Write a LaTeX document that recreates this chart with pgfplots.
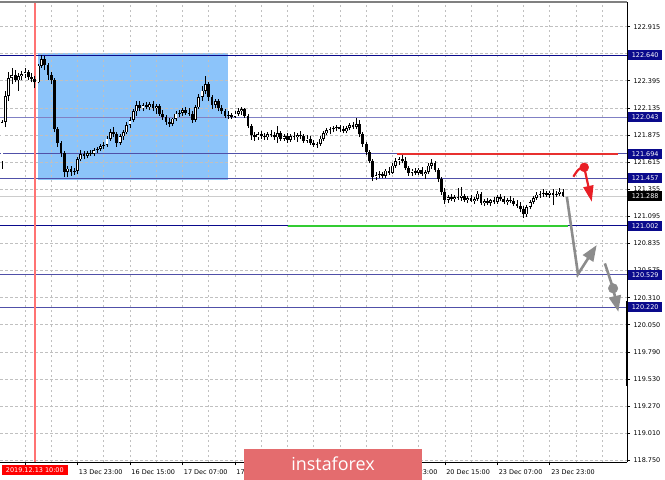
\documentclass[border=0pt]{standalone}
\usepackage{pgfplots}
\pgfplotsset{compat=1.18}
\usepackage{pgfplotstable}
\usepackage{fontspec}
\setmainfont{DejaVu Sans}
\newfontfamily\insta{Open Sans}
\usetikzlibrary{arrows.meta}

\definecolor{navy}{RGB}{10,10,140}
\definecolor{lvl}{RGB}{80,80,168}
\definecolor{lvllight}{RGB}{128,128,196}
\definecolor{boxblue}{RGB}{140,196,250}
\definecolor{gridc}{RGB}{192,192,192}
\definecolor{arrred}{RGB}{232,30,37}
\definecolor{arrgray}{RGB}{140,140,140}
\definecolor{linered}{RGB}{232,48,47}
\definecolor{linegreen}{RGB}{51,204,51}
\definecolor{banner}{RGB}{228,108,110}

% hourly candles, h = hours from 13 Dec 07:00 (trading hours)
\pgfplotstableread{
h o hi lo c
-7 121.62 122.02 121.55 122.00
-6 122.00 122.30 121.95 122.25
-5 122.25 122.48 122.20 122.42
-4 122.42 122.52 122.36 122.45
-3 122.45 122.50 122.38 122.40
-2 122.40 122.47 122.30 122.44
-1 122.44 122.49 122.40 122.46
0 122.46 122.52 122.42 122.48
1 122.48 122.50 122.40 122.43
2 122.43 122.47 122.38 122.41
3 122.41 122.44 122.33 122.38
4 122.38 122.56 122.37 122.54
5 122.54 122.64 122.52 122.60
6 122.60 122.63 122.50 122.55
7 122.55 122.57 122.40 122.45
8 122.45 122.48 122.36 122.40
9 122.40 122.42 121.90 121.93
10 121.93 121.95 121.76 121.80
11 121.80 121.82 121.66 121.70
12 121.70 121.72 121.47 121.52
13 121.52 121.58 121.47 121.55
14 121.55 121.58 121.48 121.52
15 121.52 121.56 121.49 121.53
16 121.53 121.66 121.50 121.64
17 121.64 121.73 121.62 121.69
18 121.69 121.72 121.64 121.67
19 121.67 121.72 121.65 121.70
20 121.70 121.73 121.67 121.69
21 121.69 121.75 121.67 121.73
22 121.73 121.76 121.70 121.74
23 121.74 121.79 121.72 121.77
24 121.77 121.81 121.74 121.78
25 121.78 121.86 121.76 121.84
26 121.84 121.93 121.82 121.90
27 121.90 121.95 121.85 121.88
28 121.88 121.90 121.76 121.80
29 121.80 121.88 121.78 121.86
30 121.86 121.92 121.83 121.90
31 121.90 122.00 121.88 121.97
32 121.97 122.05 121.94 122.02
33 122.02 122.12 122.00 122.10
34 122.10 122.20 122.06 122.16
35 122.16 122.20 122.10 122.13
36 122.13 122.18 122.10 122.16
37 122.16 122.19 122.12 122.14
38 122.14 122.19 122.11 122.17
39 122.17 122.20 122.10 122.13
40 122.13 122.17 122.08 122.15
41 122.15 122.17 122.06 122.08
42 122.08 122.11 122.02 122.05
43 122.05 122.07 121.97 122.00
44 122.00 122.04 121.95 121.98
45 121.98 122.04 121.96 122.03
46 122.03 122.10 122.01 122.08
47 122.08 122.11 122.05 122.09
48 122.09 122.13 122.06 122.11
49 122.11 122.14 122.07 122.09
50 122.09 122.13 122.06 122.08
51 122.08 122.10 121.99 122.02
52 122.02 122.16 122.00 122.14
53 122.14 122.27 122.12 122.24
54 122.24 122.34 122.20 122.30
55 122.30 122.44 122.27 122.36
56 122.36 122.38 122.20 122.24
57 122.24 122.26 122.12 122.16
58 122.16 122.22 122.13 122.20
59 122.20 122.22 122.10 122.13
60 122.13 122.16 122.08 122.10
61 122.10 122.12 122.04 122.06
62 122.06 122.10 122.03 122.07
63 122.07 122.09 122.03 122.05
64 122.05 122.10 122.04 122.08
65 122.08 122.13 122.06 122.10
66 122.10 122.14 122.07 122.12
67 122.12 122.13 122.04 122.06
68 122.06 122.08 121.94 121.96
69 121.96 121.98 121.83 121.87
70 121.87 121.90 121.82 121.85
71 121.85 121.90 121.83 121.88
72 121.88 121.91 121.84 121.86
73 121.86 121.89 121.83 121.85
74 121.85 121.90 121.83 121.88
75 121.88 121.92 121.85 121.87
76 121.87 121.90 121.83 121.85
77 121.85 121.96 121.80 121.89
78 121.89 121.91 121.82 121.84
79 121.84 121.88 121.82 121.86
80 121.86 121.89 121.80 121.83
81 121.83 121.88 121.81 121.86
82 121.86 121.90 121.83 121.85
83 121.85 121.89 121.81 121.87
84 121.87 121.91 121.84 121.86
85 121.86 121.88 121.80 121.82
86 121.82 121.87 121.80 121.84
87 121.84 121.86 121.78 121.80
88 121.80 121.83 121.76 121.78
89 121.78 121.81 121.75 121.79
90 121.79 121.86 121.77 121.84
91 121.84 121.91 121.82 121.89
92 121.89 121.94 121.87 121.92
93 121.92 121.95 121.88 121.93
94 121.93 121.96 121.90 121.94
95 121.94 121.97 121.91 121.95
96 121.95 121.97 121.90 121.93
97 121.93 121.96 121.89 121.91
98 121.91 121.96 121.89 121.94
99 121.94 121.99 121.92 121.97
100 121.97 122.00 121.93 121.95
101 121.95 122.04 121.93 121.98
102 121.98 122.02 121.85 121.88
103 121.88 121.90 121.76 121.79
104 121.79 121.81 121.68 121.71
105 121.71 121.73 121.60 121.62
106 121.62 121.64 121.43 121.47
107 121.47 121.52 121.44 121.49
108 121.49 121.53 121.46 121.50
109 121.50 121.52 121.46 121.48
110 121.48 121.55 121.46 121.53
111 121.53 121.57 121.49 121.51
112 121.51 121.60 121.50 121.58
113 121.58 121.65 121.56 121.62
114 121.62 121.66 121.59 121.64
115 121.64 121.68 121.60 121.62
116 121.62 121.66 121.54 121.56
117 121.56 121.58 121.48 121.51
118 121.51 121.55 121.48 121.53
119 121.53 121.56 121.49 121.51
120 121.51 121.56 121.49 121.54
121 121.54 121.57 121.48 121.50
122 121.50 121.54 121.45 121.52
123 121.52 121.60 121.50 121.58
124 121.58 121.64 121.55 121.60
125 121.60 121.62 121.52 121.54
126 121.54 121.56 121.42 121.45
127 121.45 121.47 121.30 121.33
128 121.33 121.36 121.21 121.25
129 121.25 121.30 121.22 121.28
130 121.28 121.31 121.24 121.26
131 121.26 121.30 121.23 121.28
132 121.28 121.36 121.25 121.27
133 121.27 121.37 121.24 121.29
134 121.29 121.31 121.23 121.25
135 121.25 121.29 121.22 121.27
136 121.27 121.30 121.23 121.24
137 121.24 121.28 121.21 121.26
138 121.26 121.34 121.24 121.31
139 121.31 121.33 121.20 121.22
140 121.22 121.26 121.19 121.24
141 121.24 121.27 121.20 121.22
142 121.22 121.26 121.19 121.25
143 121.25 121.28 121.21 121.23
144 121.23 121.30 121.21 121.28
145 121.28 121.31 121.24 121.26
146 121.26 121.29 121.21 121.23
147 121.23 121.27 121.20 121.25
148 121.25 121.29 121.22 121.24
149 121.24 121.27 121.19 121.21
150 121.21 121.25 121.17 121.19
151 121.19 121.23 121.13 121.16
152 121.16 121.19 121.08 121.11
153 121.11 121.20 121.09 121.18
154 121.18 121.25 121.16 121.23
155 121.23 121.29 121.21 121.27
156 121.27 121.33 121.25 121.30
157 121.30 121.34 121.27 121.31
158 121.31 121.35 121.28 121.32
159 121.32 121.34 121.28 121.30
160 121.30 121.34 121.27 121.32
161 121.32 121.35 121.20 121.30
162 121.30 121.34 121.28 121.31
163 121.31 121.36 121.29 121.33
164 121.33 121.35 121.28 121.29
}\candles

\newcommand{\lvlbox}[3]{% value, fill, text
  \node[anchor=west, fill=#2, text=white, inner sep=0pt, minimum width=34bp,
        minimum height=10bp, font=\fontsize{6.5}{7}\selectfont, xshift=1bp]
        at (axis cs:183.54,#1) {#3};}

\begin{document}
\begin{tikzpicture}
\begin{axis}[
    at={(0,-2bp)}, anchor=north west,
    width=627bp, height=460bp, scale only axis,
    set layers, clip mode=individual,
    xmin=-7.62, xmax=183.54,
    ymin=118.731, ymax=123.152,
    axis x line*=bottom, axis y line*=right,
    axis line style={-, black, line width=0.8bp},
    xtick={0,16,32,48,64,80,96,112,128,144,160},
    xticklabels={,13 Dec 23:00,16 Dec 15:00,17 Dec 07:00,17 Dec 23:00,,,19 Dec 23:00,20 Dec 15:00,23 Dec 07:00,23 Dec 23:00},
    minor xtick={8,24,40,56,72,88,104,120,136,152,168,176},
    ytick={118.750,119.010,119.270,119.530,119.790,120.050,120.310,120.575,120.835,121.095,121.355,121.615,121.875,122.135,122.395,122.655,122.915},
    yticklabels={118.750,119.010,119.270,119.530,119.790,120.050,120.310,120.575,120.835,121.095,121.355,121.615,121.875,122.135,122.395,,122.915},
    tick label style={font=\fontsize{6.5}{7}\selectfont},
    xticklabel style={anchor=north west, xshift=-2bp, yshift=-1bp},
    tick align=outside, major tick length=3bp, minor tick length=0bp,
    tick style={black, line width=0.6bp},
    xmajorgrids, xminorgrids, ymajorgrids,
    grid style={gridc, dash pattern=on 2.5bp off 2.5bp, line width=0.6bp},
    minor grid style={gridc, dash pattern=on 2.5bp off 2.5bp, line width=0.6bp},
]
\begin{pgfonlayer}{axis background}
  \fill[boxblue] (axis cs:4.05,121.44) rectangle (axis cs:62,122.66);
\end{pgfonlayer}

% levels
\draw[navy, line width=0.8bp] (axis cs:-7.62,122.640) -- (axis cs:183.54,122.640);
\draw[lvllight, line width=1.2bp] (axis cs:-7.62,122.043) -- (axis cs:183.54,122.043);
\draw[lvl, line width=1.2bp] (axis cs:-7.62,121.694) -- (axis cs:183.54,121.694);
\draw[lvl, line width=1bp] (axis cs:-7.62,121.457) -- (axis cs:183.54,121.457);
\draw[gray!40, line width=0.8bp] (axis cs:-7.62,121.288) -- (axis cs:183.54,121.288);
\draw[navy, line width=0.9bp] (axis cs:-7.62,121.002) -- (axis cs:183.54,121.002);
\draw[lvl, line width=1bp] (axis cs:-7.62,120.529) -- (axis cs:183.54,120.529);
\draw[lvl, line width=1bp] (axis cs:-7.62,120.220) -- (axis cs:183.54,120.220);
\draw[red!55, line width=1.4bp] (axis cs:3,118.731) -- (axis cs:3,123.152);

\addplot[linered, line width=2.4bp, forget plot] coordinates {(113.4,121.694)(180.8,121.694)};
\addplot[linegreen, line width=2.4bp, forget plot] coordinates {(80.2,121.002)(165.5,121.002)};

% candles: wicks, bodies, hollow bullish bodies
\addplot[draw=none, mark=none, forget plot,
  error bars/.cd, y dir=plus, y explicit, error mark=none,
  error bar style={draw=black, line width=0.7bp}]
  table[x=h, y=lo, y error plus expr=\thisrow{hi}-\thisrow{lo}] {\candles};
\addplot[draw=none, mark=none, forget plot,
  error bars/.cd, y dir=plus, y explicit, error mark=none,
  error bar style={draw=black, line width=2.8bp}]
  table[x=h, y expr={min(\thisrow{o},\thisrow{c})},
        y error plus expr={max(abs(\thisrow{c}-\thisrow{o}),0.008)}] {\candles};
\addplot[draw=none, mark=none, forget plot,
  error bars/.cd, y dir=plus, y explicit, error mark=none,
  error bar style={draw=white, line width=1.3bp}]
  table[x=h, y expr={\thisrow{o}+0.007},
        y error plus expr={max(\thisrow{c}-\thisrow{o}-0.014,0)}] {\candles};

% forecast arrows
\addplot[arrred, line width=2.2bp, smooth, forget plot] coordinates {(167.2,121.473)(168.7,121.54)(170.5,121.563)};
\addplot[arrred, line width=2.2bp, -{Triangle[length=16bp,width=10bp]}, forget plot] coordinates {(170.5,121.563)(172.8,121.232)};
\addplot[only marks, mark=*, mark size=4.5bp, arrred, forget plot] coordinates {(170.5,121.563)};
\addplot[arrgray, line width=2.6bp, -{Triangle[length=16bp,width=12bp]}, forget plot] coordinates {(165.2,121.280)(168.6,120.537)(174.3,120.816)};
\addplot[arrgray, line width=2.6bp, -{Triangle[length=16bp,width=12bp]}, forget plot] coordinates {(176.8,120.640)(179.3,120.400)(180.9,120.175)};
\addplot[only marks, mark=*, mark size=4.8bp, arrgray, forget plot] coordinates {(179.3,120.400)};

% top border and the last bar at the axis
\draw[gray, line width=2bp] (rel axis cs:0,1) -- (rel axis cs:1,1);
\draw[black, line width=2.2bp] (axis cs:183.54,120.277) -- (axis cs:183.54,119.46);

% level labels
\lvlbox{122.640}{navy}{122.640}
\lvlbox{122.043}{navy}{122.043}
\lvlbox{121.694}{navy}{121.694}
\lvlbox{121.457}{navy}{121.457}
\lvlbox{121.288}{black}{121.288}
\lvlbox{121.002}{navy}{121.002}
\lvlbox{120.529}{navy}{120.529}
\lvlbox{120.220}{navy}{120.220}

% vertical line date label
\node[fill=red, text=white, inner sep=0pt, minimum width=66bp, minimum height=10bp,
      font=\fontsize{6.5}{7}\selectfont, anchor=north] at ([yshift=-3bp]axis cs:3,118.731) {2019.12.13 10:00};
\end{axis}
\fill[banner] (244bp,-448.7bp) rectangle (422bp,-480bp);
\node[text=white, font=\insta\fontsize{18}{20}\selectfont] at (333bp,-463.5bp) {instaforex};
\pgfresetboundingbox
\path[use as bounding box] (0,0) rectangle (665bp,-480bp);
\end{tikzpicture}
\end{document}
